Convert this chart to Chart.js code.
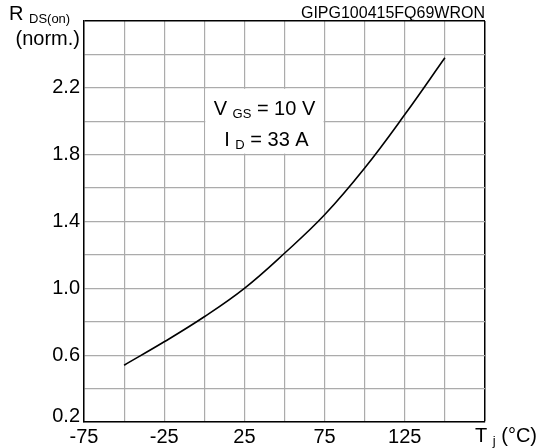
<!DOCTYPE html>
<html>
<head>
<meta charset="utf-8">
<script src="https://cdn.jsdelivr.net/npm/chart.js@4/dist/chart.umd.min.js"></script>
<style>
  html, body { margin: 0; padding: 0; background: #fff; }
  #wrap { width: 541px; height: 448px; }
</style>
</head>
<body>
<div id="wrap"><canvas id="c" width="541" height="448"></canvas></div>
<script>
// Normalized on-resistance vs junction temperature
const junctionTemp = [-50, -25, 0, 25, 50, 75, 100, 125, 150];
const rdsOnNorm    = [0.54, 0.68, 0.83, 1.00, 1.21, 1.44, 1.72, 2.04, 2.38];

// Labelled ticks (grid runs every 25 °C and every 0.2)
const xTickLabels = [-75, -25, 25, 75, 125];
const yTickLabels = [0.6, 1.0, 1.4, 1.8, 2.2];
const yBottomLabel = 0.2;

const FONT = '"Liberation Sans", Arial, sans-serif';
const GRID = '#ababab';

const near = (a, b) => Math.abs(a - b) < 1e-6;

// Draw a run of text pieces, some as subscripts
function drawRuns(ctx, runs, x, y, align) {
  const widths = runs.map(r => {
    ctx.font = (r.sub ? '13px ' : '20px ') + FONT;
    return ctx.measureText(r.t).width;
  });
  const total = widths.reduce((a, b) => a + b, 0);
  let cx = align === 'center' ? x - total / 2 : align === 'right' ? x - total : x;
  ctx.textAlign = 'left';
  ctx.textBaseline = 'alphabetic';
  runs.forEach((r, i) => {
    ctx.font = (r.sub ? '13px ' : '20px ') + FONT;
    ctx.fillText(r.t, cx, y + (r.sub ? 3 : 0));
    cx += widths[i];
  });
}

const decorations = {
  id: 'decorations',
  beforeDatasetsDraw(chart) {
    const { ctx, scales: { x, y } } = chart;
    const x0 = x.getPixelForValue(0), x1 = x.getPixelForValue(75);
    const y0 = y.getPixelForValue(2.2), y1 = y.getPixelForValue(1.8);
    ctx.save();
    ctx.fillStyle = '#fff';
    ctx.fillRect(x0 + 1, y0 + 1, x1 - x0 - 2, y1 - y0 - 2);
    ctx.fillStyle = '#000';
    const cx = (x0 + x1) / 2;
    drawRuns(ctx, [{ t: 'V ' }, { t: 'GS', sub: true }, { t: ' = 10 V' }], cx, y0 + 27, 'center');
    drawRuns(ctx, [{ t: 'I ' }, { t: 'D', sub: true }, { t: ' = 33 A' }], cx + 2, y0 + 58, 'center');
    ctx.restore();
  },
  afterDraw(chart) {
    const { ctx, chartArea: a, scales: { y } } = chart;
    ctx.save();
    ctx.fillStyle = '#000';
    // bottom value label sits above the x labels
    ctx.font = '20px ' + FONT;
    ctx.textAlign = 'right';
    ctx.textBaseline = 'alphabetic';
    ctx.fillText(yBottomLabel.toFixed(1), a.left - 4, y.getPixelForValue(yBottomLabel));
    // axis titles
    drawRuns(ctx, [{ t: 'R ' }, { t: 'DS(on)', sub: true }], 9, 20, 'left');
    ctx.font = '20px ' + FONT;
    ctx.textAlign = 'right';
    ctx.fillText('(norm.)', a.left - 4, 45);
    drawRuns(ctx, [{ t: 'T ' }, { t: 'j', sub: true }, { t: ' (°C)' }], 475, 442, 'left');
    // figure code
    ctx.font = '16px ' + FONT;
    ctx.textAlign = 'right';
    ctx.fillText('GIPG100415FQ69WRON', a.right, 18);
    ctx.restore();
  }
};

new Chart(document.getElementById('c'), {
  type: 'line',
  data: {
    datasets: [{
      data: junctionTemp.map((t, i) => ({ x: t, y: rdsOnNorm[i] })),
      borderColor: '#000',
      borderWidth: 1.6,
      pointRadius: 0,
      fill: false,
      tension: 0.4
    }]
  },
  options: {
    responsive: false,
    devicePixelRatio: 1,
    animation: false,
    layout: { padding: { top: 21, right: 56, left: 0, bottom: 0 } },
    plugins: { legend: { display: false }, tooltip: { enabled: false } },
    scales: {
      x: {
        type: 'linear',
        min: -75, max: 175,
        afterFit(s) { s.height = 26; },
        ticks: {
          stepSize: 25, autoSkip: false, maxRotation: 0, padding: 3,
          color: '#000', font: { size: 20, family: FONT },
          callback: v => xTickLabels.some(l => near(l, v)) ? String(v) : ''
        },
        grid: {
          drawTicks: false,
          color: c => near(c.tick.value, 175) ? '#000' : GRID,
          lineWidth: c => near(c.tick.value, 175) ? 1.5 : 1.2
        },
        border: { color: '#000', width: 1.5 }
      },
      y: {
        min: 0.2, max: 2.6,
        afterFit(s) { s.width = 84; },
        ticks: {
          stepSize: 0.2, autoSkip: false, padding: 4,
          color: '#000', font: { size: 20, family: FONT },
          callback: v => yTickLabels.some(l => near(l, v)) ? v.toFixed(1) : ''
        },
        grid: {
          drawTicks: false,
          color: c => near(c.tick.value, 2.6) ? '#000' : GRID,
          lineWidth: c => near(c.tick.value, 2.6) ? 1.5 : 1.2
        },
        border: { color: '#000', width: 1.5 }
      }
    }
  },
  plugins: [decorations]
});
</script>
</body>
</html>
